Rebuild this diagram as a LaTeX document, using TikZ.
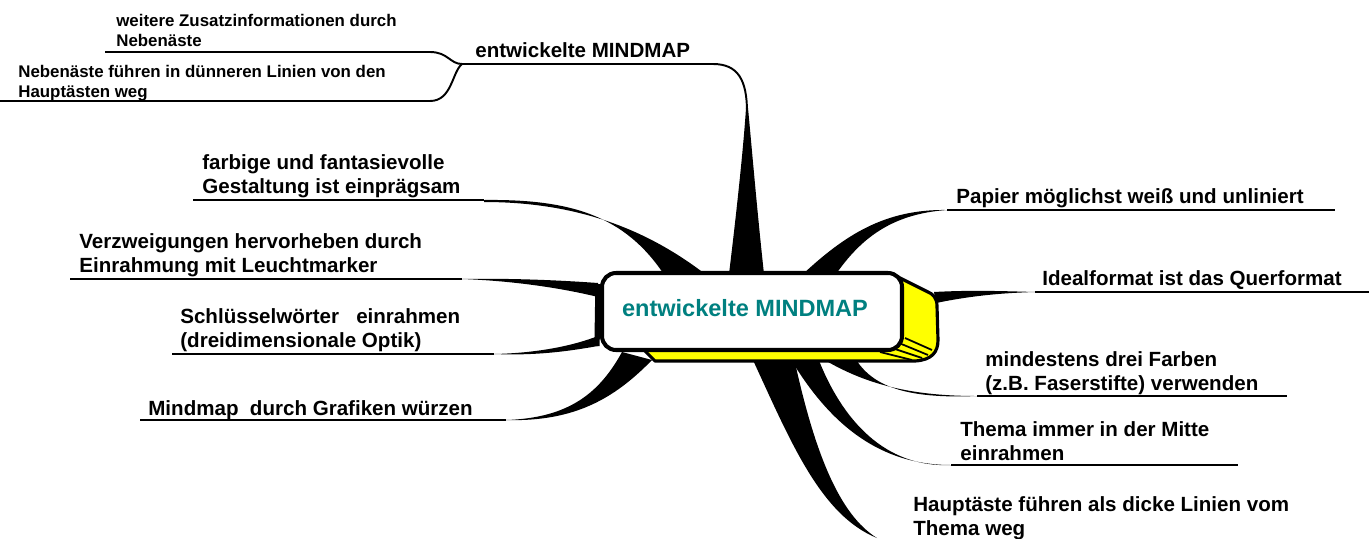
\documentclass[tikz,border=0pt]{standalone}
\usepackage{fontspec}
\setmainfont{Liberation Sans}
\definecolor{petrol}{RGB}{0,128,128}
\definecolor{gelb}{RGB}{255,255,0}
\tikzset{
  etikett/.style={anchor=base west, inner sep=0pt, align=left, font=\bfseries\fontsize{11.7}{13.6}\selectfont},
  kleinetikett/.style={etikett, font=\bfseries\fontsize{9.6}{11.3}\selectfont},
  strich/.style={line width=1.1pt},
  ast/.style={fill=black},
  rahmen/.style={line width=2.3pt, rounded corners=0.28cm},
}
\begin{document}
\begin{tikzpicture}[x=0.02cm,y=-0.02cm]
      \useasboundingbox (0,0) rectangle (1369,538);
      % Texte (bei zwei Zeilen: Grundlinie der letzten Zeile)
      \node[kleinetikett] (zusatz) at (116,46) {weitere Zusatzinformationen durch\\Nebenäste};
      \node[kleinetikett] (nebenaeste) at (18,97) {Nebenäste führen in dünneren Linien von den\\Hauptästen weg};
      \node[etikett] (titel) at (475,57) {entwickelte MINDMAP};
      \node[etikett] (farbig) at (202,193) {farbige und fantasievolle\\Gestaltung ist einprägsam};
      \node[etikett] (verzweig) at (79,272) {Verzweigungen hervorheben durch\\Einrahmung mit Leuchtmarker};
      \node[etikett] (schluessel) at (180,347) {Schlüsselwörter\ \ \ einrahmen\\(dreidimensionale Optik)};
      \node[etikett] (grafik) at (148,415) {Mindmap\ \ durch Grafiken würzen};
      \node[etikett] (papier) at (956,203) {Papier möglichst weiß und unliniert};
      \node[etikett] (ideal) at (1042,285) {Idealformat ist das Querformat};
      \node[etikett] (farben) at (985,390) {mindestens drei Farben\\(z.B. Faserstifte) verwenden};
      \node[etikett] (thema) at (960,460) {Thema immer in der Mitte\\einrahmen};
      \node[etikett] (hauptaeste) at (913,535) {Hauptäste führen als dicke Linien vom\\Thema weg};
      % Linienenden
      \coordinate (zusatzL) at (105,52);   \coordinate (zusatzR) at (430,52);
      \coordinate (nebenL) at (0,101);     \coordinate (nebenR) at (430,101);
      \coordinate (gabel) at (462,64);     \coordinate (titelR) at (713,64);
      \coordinate (farbigL) at (193,200);  \coordinate (farbigR) at (484,200);
      \coordinate (verzweigL) at (70,279); \coordinate (verzweigR) at (462,279);
      \coordinate (schluesselL) at (172,354); \coordinate (schluesselR) at (494,354);
      \coordinate (grafikL) at (140,420);  \coordinate (grafikR) at (506,420);
      \coordinate (papierL) at (947,210);  \coordinate (papierR) at (1335,210);
      \coordinate (idealL) at (1035,292);  \coordinate (idealR) at (1369,292);
      \coordinate (farbenL) at (977,396);  \coordinate (farbenR) at (1287,396);
      \coordinate (themaL) at (951,465);   \coordinate (themaR) at (1238,465);
      \coordinate (hauptaesteL) at (877,538);
      % Unterstreichungen
      \draw[strich] (zusatzL) -- (zusatzR) .. controls (448,52) and (450,64) .. (gabel);
      \draw[strich] (nebenL) -- (nebenR) .. controls (452,101) and (452,72) .. (gabel);
      \draw[strich] (gabel) -- (titelR) .. controls (738,64) and (747,80) .. (747,112);
      \foreach \n in {farbig,verzweig,schluessel,grafik,papier,ideal,farben,thema}
        \draw[strich] (\n L) -- (\n R);
      % Hauptaeste
      \fill[ast] (729,274) .. controls (738,200) and (744,140) .. (746,108) -- (748,108) .. controls (752,150) and (757,210) .. (764,274) -- cycle;
      \fill[ast] (farbigR) .. controls (570,199) and (625,215) .. (665,276) -- (705,274) .. controls (645,228) and (575,202) .. (484,202) -- cycle;
      \fill[ast] (verzweigR) .. controls (520,278) and (570,281) .. (598,283) -- (598,297) .. controls (570,290) and (520,281) .. (verzweigR) -- cycle;
      \fill[ast] (schluesselR) .. controls (540,353) and (575,345) .. (598,336) -- (598,346) .. controls (575,350) and (540,356) .. (schluesselR) -- cycle;
      \draw[line width=3pt] (598,284) -- (597,346);
      \fill[ast] (grafikR) .. controls (570,418) and (600,392) .. (622,352) -- (652,360) .. controls (615,398) and (575,422) .. (grafikR) -- cycle;
      \fill[ast] (803,274) .. controls (845,235) and (885,209) .. (papierL) .. controls (890,214) and (860,240) .. (836,274) -- cycle;
      \fill[ast] (934,292) .. controls (970,290) and (1000,291) .. (idealL) .. controls (1000,293) and (970,296) .. (936,303) -- cycle;
      \fill[ast] (818,356) .. controls (860,382) and (905,396) .. (farbenL) .. controls (905,399) and (872,386) .. (855,358) -- cycle;
      \fill[ast] (790,358) .. controls (830,425) and (880,465) .. (themaL) .. controls (885,468) and (842,420) .. (818,358) -- cycle;
      \fill[ast] (752,358) .. controls (790,440) and (820,515) .. (hauptaesteL) .. controls (840,515) and (815,455) .. (794,358) -- cycle;
      % Thema-Kasten
      \filldraw[fill=gelb, line width=1.8pt, line join=round] (640,346) -- (655,361) -- (915,361) .. controls (932,360) and (938,352) .. (938,340) -- (937,306) .. controls (937,298) and (933,294) .. (928,292) -- (896,276) -- cycle;
      \foreach \a/\b/\c/\d in {905/338/932/350, 899/343/928/355, 892/348/922/358, 880/352/912/360}
        \draw[line width=1pt] (\a,\b) -- (\c,\d);
      \filldraw[fill=white, rahmen] (602,273) rectangle (902,350);
      \node[anchor=base, inner sep=0pt, text=petrol, font=\bfseries\fontsize{13.4}{15}\selectfont] (mitte) at (745,316) {entwickelte MINDMAP};
\end{tikzpicture}
\end{document}
